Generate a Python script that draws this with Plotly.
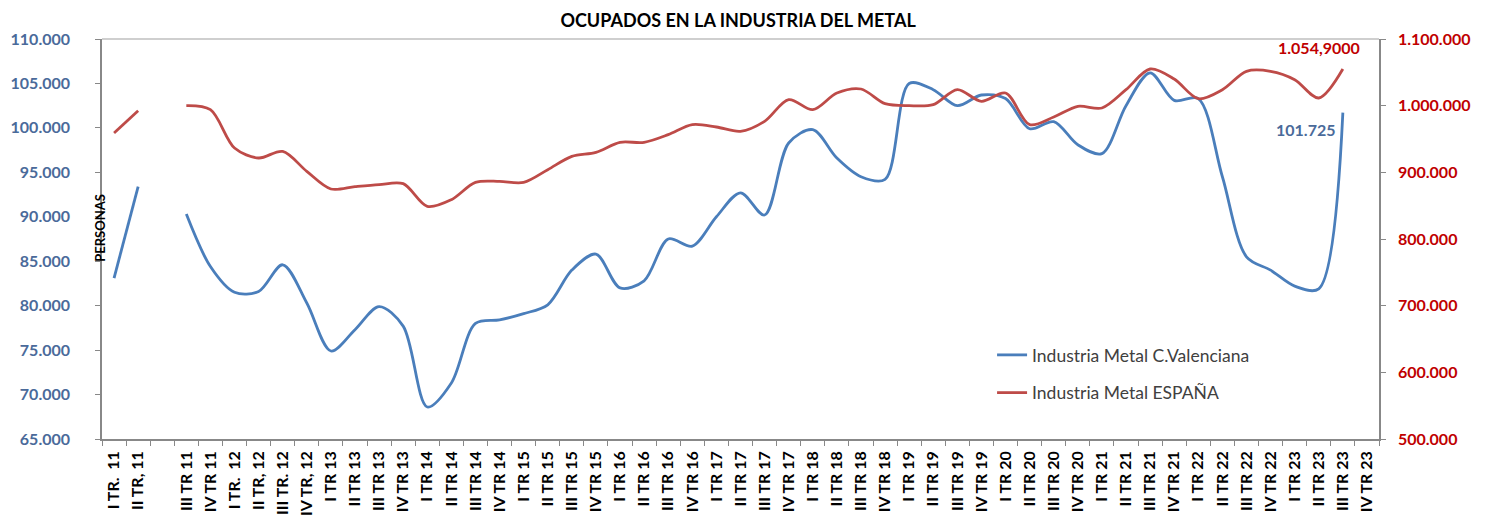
import plotly.graph_objects as go

categories = ["I TR.  11", "II TR, 11", " ", "III TR 11", "IV TR 11",
              "I TR.  12", "II TR, 12", "III TR. 12", "IV TR, 12",
              "I TR 13", "II TR 13", "III TR 13", "IV TR 13",
              "I TR 14", "II TR 14", "III TR 14", "IV TR 14",
              "I TR 15", "II TR 15", "III TR 15", "IV TR 15",
              "I TR 16", "II TR 16", "III TR 16", "IV TR 16",
              "I TR 17", "II TR 17", "III TR 17", "IV TR 17",
              "I TR 18", "II TR 18", "III TR 18", "IV TR 18",
              "I TR 19", "II TR 19", "III TR 19", "IV TR 19",
              "I TR 20", "II TR 20", "III TR 20", "IV TR 20",
              "I TR 21", "II TR 21", "III TR 21", "IV TR 21",
              "I TR 22", "II TR 22", "III TR 22", "IV TR 22",
              "I TR 23", "II TR 23", "III TR 23", "IV TR 23"]

valenciana = [83100, 93400, None, 90300, 84400, 81500, 81600, 84600, 80300,
              74900, 77300, 79900, 77700, 68600, 71300, 78000, 78400,
              79100, 80100, 84000, 85800, 82000, 82800, 87500, 86700,
              90000, 92700, 90200, 98300, 99800, 96600, 94500, 94200,
              105000, 104300, 102500, 103700, 103300, 99900, 100700, 98100,
              97100, 102500, 106200, 103100, 103300, 94500, 85500, 84000,
              82200, 81900, 101725, None]

espana = [959000, 992500, None, 1000000, 994000, 936500, 921500, 931400, 901400,
          875000, 878500, 881500, 883000, 849000, 859000, 884900, 886400,
          885000, 904000, 924000, 930000, 945000, 945000, 956500, 971500,
          968000, 961500, 976500, 1009000, 994000, 1019000, 1025000, 1003000,
          1000000, 1001500, 1024000, 1006500, 1019000, 971500, 983000, 999000,
          996500, 1024000, 1055000, 1040000, 1010500, 1024000, 1051500, 1051500,
          1039000, 1011500, 1054900, None]

left_ticks = list(range(65000, 110001, 5000))
right_ticks = list(range(500000, 1100001, 100000))

BLUE = "#4A7EBB"
RED = "#BE4B48"
FONT = "Lato, 'Liberation Sans', Arial, sans-serif"

fig = go.Figure()
fig.add_trace(go.Scatter(
    x=categories, y=valenciana, name="Industria Metal C.Valenciana",
    legendgroup="a",
    mode="lines", line=dict(color=BLUE, width=2.8, shape="spline", smoothing=0.9),
    connectgaps=False, yaxis="y"))
fig.add_trace(go.Scatter(
    x=categories, y=espana, name="Industria Metal ESPAÑA",
    legendgroup="b",
    mode="lines", line=dict(color=RED, width=2.8, shape="spline", smoothing=0.9),
    connectgaps=False, yaxis="y2"))

fig.update_layout(
    width=1483, height=515,
    margin=dict(l=94, r=112, t=31, b=84),
    paper_bgcolor="white", plot_bgcolor="white",
    separators=",.",
    font=dict(family=FONT),
    title=dict(text="<b>OCUPADOS EN LA INDUSTRIA DEL METAL</b>",
               x=0.4923, xanchor="center", y=0.976, yanchor="middle",
               font=dict(size=18, color="black", family=FONT)),
    xaxis=dict(type="category", categoryorder="array", categoryarray=categories,
               range=[-0.5, len(categories) - 0.5], automargin=False,
               tickangle=-90, tickson="boundaries", ticks="outside", ticklen=5,
               tickcolor="#888888", showline=True, linecolor="#888888", linewidth=1.5,
               showgrid=False, zeroline=False, ticklabelstandoff=4,
               tickfont=dict(size=16, color="black", family=FONT, weight="bold")),
    yaxis=dict(range=[65000, 110000], tickvals=left_ticks, tickformat=",d",
               automargin=False,
               ticks="outside", ticklen=5, tickcolor="#888888",
               showline=True, linecolor="#888888", linewidth=1.5,
               showgrid=False, zeroline=False, ticklabelstandoff=22,
               tickfont=dict(size=16, color="#4A6A9A", family=FONT, weight="bold")),
    yaxis2=dict(range=[500000, 1100000], tickvals=right_ticks, tickformat=",d",
                overlaying="y", side="right", automargin=False,
                ticks="outside", ticklen=5, tickcolor="#888888",
                showline=True, linecolor="#888888", linewidth=1.5,
                showgrid=False, zeroline=False, ticklabelstandoff=9,
                tickfont=dict(size=16, color="#C00000", family=FONT, weight="bold")),
    legend=dict(x=0.697, y=0.255, xanchor="left", yanchor="top",
                bgcolor="rgba(0,0,0,0)", itemwidth=30, tracegroupgap=12,
                font=dict(size=17.5, color="#404040", family=FONT)),
    showlegend=True,
)

# top border line of the plot area (gridline at maximum)
fig.add_shape(type="line", xref="paper", yref="paper", x0=0, x1=1, y0=1, y1=1,
              line=dict(color="#BFBFBF", width=1.5))

fig.add_annotation(text="<b>PERSONAS</b>", xref="paper", yref="paper",
                   x=0.0, y=0.528, xanchor="left", yanchor="middle",
                   textangle=-90, showarrow=False, xshift=-12,
                   font=dict(size=13, color="black", family=FONT))

fig.add_annotation(text="<b>101.725</b>", x=51, y=valenciana[51], xref="x", yref="y",
                   xanchor="right", yanchor="middle", showarrow=False,
                   xshift=-6, yshift=-17,
                   font=dict(size=16, color="#4A6A9A", family=FONT))
fig.add_annotation(text="<b>1.054,9000</b>", x=51, y=espana[51], xref="x", yref="y2",
                   xanchor="center", yanchor="middle", showarrow=False,
                   xshift=-24, yshift=22,
                   font=dict(size=16, color="#C00000", family=FONT))

fig.write_html("out.html")
